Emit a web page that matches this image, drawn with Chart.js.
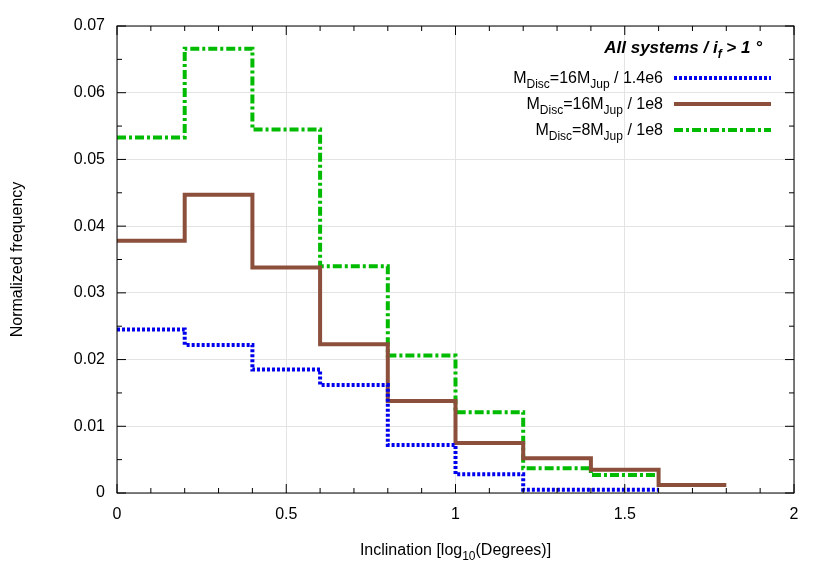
<!DOCTYPE html>
<html><head><script src="https://cdn.jsdelivr.net/npm/chart.js@4"></script>
<style>body{margin:0;background:#fff}</style></head><body>
<canvas id="c" width="830" height="581"></canvas>
<script>
const binEdges = [0,0.2,0.4,0.6,0.8,1.0,1.2,1.4,1.6,1.8];
const blueVals = [0.0245,0.0222,0.0185,0.0162,0.0072,0.0028,0.0005,0.0005];
const brownVals = [0.0378,0.0447,0.0338,0.0223,0.0138,0.0075,0.0052,0.0035,0.0012];
const greenVals = [0.0533,0.0666,0.0545,0.0340,0.0206,0.0121,0.0037,0.0027];
const xTicks = [0,0.5,1,1.5,2];
const yTicks = [0,0.01,0.02,0.03,0.04,0.05,0.06,0.07];
function steps(v){const p=v.map((y,i)=>({x:binEdges[i],y}));p.push({x:binEdges[v.length],y:v[v.length-1]});return p;}
const F='"Liberation Sans", Arial, sans-serif';
function sub(ctx,parts,x,y,align){
  let w=0;parts.forEach(p=>{ctx.font=(p[1]?'12px ':'16px ')+F;w+=ctx.measureText(p[0]).width;});
  let cx=align==='right'?x-w:align==='center'?x-w/2:x;
  parts.forEach(p=>{ctx.font=(p[1]?'12px ':'16px ')+F;ctx.fillText(p[0],cx,y+(p[1]?5:0));cx+=ctx.measureText(p[0]).width;});
}
const deco={id:'deco',afterDraw(ch){
  const ctx=ch.ctx,a=ch.chartArea,xs=ch.scales.x,ys=ch.scales.y;
  ctx.save();ctx.strokeStyle='#000';ctx.lineWidth=1;
  ctx.strokeRect(a.left,a.top,a.right-a.left,a.bottom-a.top);
  ctx.beginPath();
  for(let v=0;v<=2.0001;v+=0.1){const px=xs.getPixelForValue(v),L=(Math.round(v*10)%5===0)?9:5;
    ctx.moveTo(px,a.bottom);ctx.lineTo(px,a.bottom-L);ctx.moveTo(px,a.top);ctx.lineTo(px,a.top+L);}
  for(let v=0;v<=0.07001;v+=0.005){const py=ys.getPixelForValue(v),L=(Math.round(v*1000)%10===0)?9:5;
    ctx.moveTo(a.left,py);ctx.lineTo(a.left+L,py);ctx.moveTo(a.right,py);ctx.lineTo(a.right-L,py);}
  ctx.stroke();
  ctx.fillStyle='#000';ctx.textBaseline='alphabetic';
  sub(ctx,[['Inclination [log',0],['10',1],['(Degrees)]',0]],(a.left+a.right)/2,555,'center');
  ctx.save();ctx.translate(22,(a.top+a.bottom)/2);ctx.rotate(-Math.PI/2);ctx.font='16px '+F;ctx.textAlign='center';ctx.fillText('Normalized frequency',0,0);ctx.restore();
  ctx.textAlign='left';
  ctx.font='italic bold 17px '+F;
  let t1='All systems / i';let w1=ctx.measureText(t1).width;
  ctx.font='italic bold 12px '+F;let w2=ctx.measureText('f').width;
  ctx.font='italic bold 17px '+F;let w3=ctx.measureText(' > 1 °').width;
  let sx=762-(w1+w2+w3);
  ctx.fillText(t1,sx,53);ctx.font='italic bold 12px '+F;ctx.fillText('f',sx+w1,58);
  ctx.font='italic bold 17px '+F;ctx.fillText(' > 1 °',sx+w1+w2,53);
  const leg=[['16',' / 1.4e6','#0000ee',[3,2],4],['16',' / 1e8','#8b4f3c',[],4],['8',' / 1e8','#00bb00',[9,3,3,3],4]];
  leg.forEach((l,i)=>{const y=83+i*26;
    sub(ctx,[['M',0],['Disc',1],['='+l[0]+'M',0],['Jup',1],[l[1],0]],663,y,'right');
    ctx.beginPath();ctx.strokeStyle=l[2];ctx.lineWidth=l[4];ctx.setLineDash(l[3]);ctx.moveTo(674,y-5);ctx.lineTo(771,y-5);ctx.stroke();ctx.setLineDash([]);});
  ctx.restore();}};
const ds=(v,c,d)=>({data:steps(v),borderColor:c,borderWidth:4,borderDash:d,stepped:'before',pointRadius:0,fill:false});
new Chart(document.getElementById('c'),{type:'line',
 data:{datasets:[ds(blueVals,'#0000ee',[3,2]),ds(brownVals,'#8b4f3c',[]),ds(greenVals,'#00bb00',[9,3,3,3])]},
 options:{responsive:false,animation:false,layout:{padding:{top:26,right:36,left:0,bottom:0}},
  plugins:{legend:{display:false},tooltip:{enabled:false}},
  scales:{
   x:{type:'linear',min:0,max:2,afterBuildTicks:s=>{s.ticks=xTicks.map(v=>({value:v}))},
      afterFit:s=>{s.height=88},border:{display:false},
      grid:{color:'#e4e4e4',borderDash:[1,2],drawTicks:false,lineWidth:1},
      ticks:{color:'#000',font:{size:16,family:F},padding:12,callback:v=>String(v)}},
   y:{min:0,max:0.07,afterBuildTicks:s=>{s.ticks=yTicks.map(v=>({value:v}))},
      afterFit:s=>{s.width=117},border:{display:false},
      grid:{color:'#e4e4e4',borderDash:[1,2],drawTicks:false},
      ticks:{color:'#000',font:{size:16,family:F},padding:12,callback:v=>v===0?'0':String(+v.toFixed(2))}}}},
 plugins:[deco]});
</script></body></html>
